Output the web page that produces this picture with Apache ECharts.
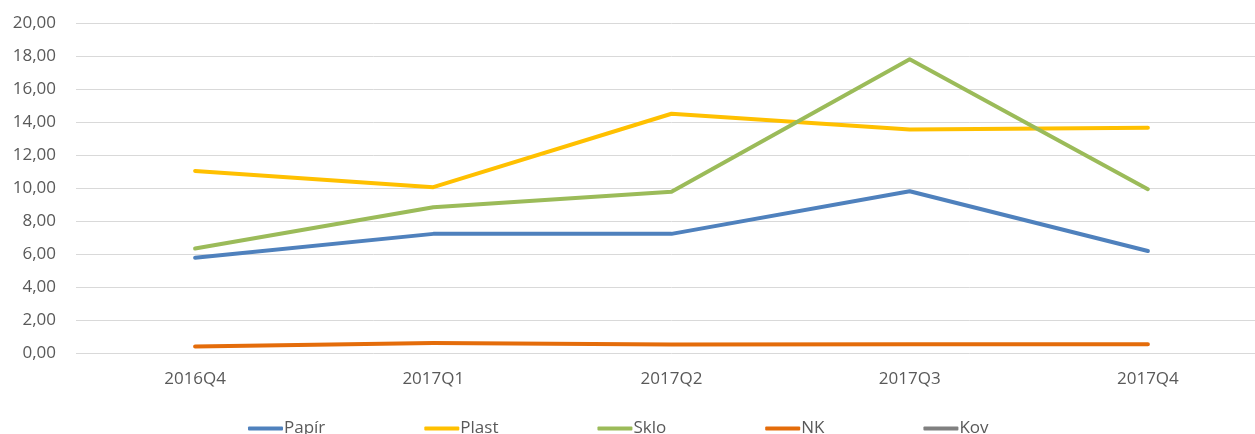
<!DOCTYPE html>
<html><head><meta charset="utf-8">
<script src="https://cdn.jsdelivr.net/npm/echarts@6/dist/echarts.min.js"></script>
<style>html,body{margin:0;padding:0;background:#fff;overflow:hidden}#c{width:1267px;height:434px}</style>
</head><body><div id="c"></div>
<script>
const categories = ['2016Q4','2017Q1','2017Q2','2017Q3','2017Q4'];
const papir = [5.77, 7.22, 7.22, 9.80, 6.18];
const plast = [11.03, 10.05, 14.50, 13.55, 13.65];
const sklo  = [6.33, 8.83, 9.78, 17.80, 9.93];
const nk    = [0.40, 0.60, 0.52, 0.53, 0.53];
const kov   = [null, null, null, null, null];
const seriesNames = ['Papír','Plast','Sklo','NK','Kov'];
const colors = ['#4F81BD','#FFC000','#9BBB59','#E46C0A','#808080'];

const font = 'Open Sans';
const chart = echarts.init(document.getElementById('c'));
const data = [papir, plast, sklo, nk, kov];
chart.setOption({
  animation: false,
  color: colors,
  grid: {left: 76, right: 0, top: 23, height: 330, containLabel: false},
  legend: {
    data: seriesNames,
    bottom: -8, left: 243,
    icon: 'roundRect', itemWidth: 35, itemHeight: 4, itemGap: 99,
    textStyle: {fontFamily: font, fontSize: 17, color: '#595959', padding: [0,0,0,-4]}
  },
  xAxis: {
    type: 'category', data: categories, boundaryGap: true,
    axisLine: {show: false}, axisTick: {show: false},
    axisLabel: {fontFamily: font, fontSize: 17, color: '#595959', margin: 18}
  },
  yAxis: {
    type: 'value', min: 0, max: 20, interval: 2,
    axisLine: {show: false}, axisTick: {show: false},
    splitLine: {lineStyle: {color: '#D9D9D9', width: 1}},
    axisLabel: {fontFamily: font, fontSize: 17, color: '#595959', margin: 20,
      formatter: v => v.toFixed(2).replace('.', ',')}
  },
  series: seriesNames.map((n, i) => ({
    name: n, type: 'line', data: data[i], showSymbol: false, symbol: 'none',
    lineStyle: {width: 4, color: colors[i], cap: 'round', join: 'round'},
    itemStyle: {color: colors[i]}
  }))
});
</script></body></html>
